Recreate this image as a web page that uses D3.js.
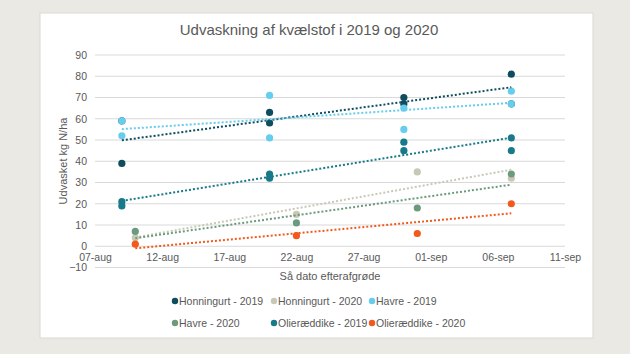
<!DOCTYPE html>
<html>
<head>
<meta charset="utf-8">
<script src="https://cdn.jsdelivr.net/npm/d3@7"></script>
<style>
  body { margin: 0; background: #ebe9e4; }
  text { font-family: "Liberation Sans", Arial, sans-serif; fill: #595959; }
</style>
</head>
<body>
<script>
// data
const dates2019 = ["09-aug", "20-aug", "30-aug", "07-sep"];
const dates2020 = ["10-aug", "22-aug", "31-aug", "07-sep"];

const honningurt2019 = [[39, 59], [63, 58], [70, 67], [81, 67]];
const honningurt2020 = [[4], [15], [35], [32]];
const havre2019 = [[59, 52], [71, 51], [65, 55], [73, 67]];
const havre2020 = [[7], [11], [18], [34]];
const olie2019 = [[21, 19], [34, 32], [49, 45], [51, 45]];
const olie2020 = [[1], [5], [6], [20]];

const seriesNames = ["Honningurt - 2019", "Honningurt - 2020", "Havre - 2019",
                     "Havre - 2020", "Olieræddike - 2019", "Olieræddike - 2020"];
const seriesColors = ["#0f4d5e", "#c8c8b4", "#66cdee", "#6b9a7c", "#17798a", "#f2591c"];

const xTickLabels = ["07-aug", "12-aug", "17-aug", "22-aug", "27-aug", "01-sep", "06-sep", "11-sep"];
const yTicks = [-10, 0, 10, 20, 30, 40, 50, 60, 70, 80, 90];

const parse = d3.timeParse("%d-%b");

const series = [
    { dates: dates2019, vals: honningurt2019 },
    { dates: dates2020, vals: honningurt2020 },
    { dates: dates2019, vals: havre2019 },
    { dates: dates2020, vals: havre2020 },
    { dates: dates2019, vals: olie2019 },
    { dates: dates2020, vals: olie2020 }
].map(function(s, i) {
    var pts = [];
    s.dates.forEach(function(d, j) {
        s.vals[j].forEach(function(v) { pts.push({ x: parse(d), y: v }); });
    });
    return { name: seriesNames[i], color: seriesColors[i], points: pts };
});

var w = 630, h = 354;

var svg = d3.select("body").append("svg")
    .attr("width", w)
    .attr("height", h);

svg.append("rect")
    .attr("x", 40).attr("y", 13)
    .attr("width", 553).attr("height", 325)
    .attr("fill", "#ffffff")
    .attr("stroke", "#dcd9d2");

var x = d3.scaleTime()
    .domain([parse(xTickLabels[0]), parse(xTickLabels[xTickLabels.length - 1])])
    .range([95, 565]);

var y = d3.scaleLinear()
    .domain([-10, 90])
    .range([267.5, 55]);

// gridlines
svg.append("g")
    .selectAll("line")
    .data(yTicks)
    .enter().append("line")
    .attr("x1", 95).attr("x2", 565)
    .attr("y1", function(d) { return y(d); })
    .attr("y2", function(d) { return y(d); })
    .attr("stroke", "#d9d9d9")
    .attr("stroke-width", 1);

// y axis labels
var yAxis = svg.append("g")
    .attr("transform", "translate(87,0)")
    .call(d3.axisLeft(y).tickValues(yTicks).tickSize(0).tickPadding(0));
yAxis.select(".domain").remove();
yAxis.selectAll("text")
    .attr("font-size", 10.5)
    .style("font-family", "Liberation Sans, Arial, sans-serif")
    .attr("fill", "#595959");

// x axis labels (below the 0 line)
var xAxis = svg.append("g")
    .attr("transform", "translate(0," + y(0) + ")")
    .call(d3.axisBottom(x)
        .tickValues(xTickLabels.map(parse))
        .tickFormat(function(d, i) { return xTickLabels[i]; })
        .tickSize(0).tickPadding(7));
xAxis.select(".domain").remove();
xAxis.selectAll("text")
    .attr("font-size", 10.5)
    .style("font-family", "Liberation Sans, Arial, sans-serif")
    .attr("fill", "#595959");

// points
series.forEach(function(s) {
    svg.append("g")
        .selectAll("circle")
        .data(s.points)
        .enter().append("circle")
        .attr("cx", function(d) { return x(d.x); })
        .attr("cy", function(d) { return y(d.y); })
        .attr("r", 3.6)
        .attr("fill", s.color);
});

// linear trendlines
series.forEach(function(s) {
    var xs = s.points.map(function(p) { return +p.x; });
    var ys = s.points.map(function(p) { return p.y; });
    var mx = d3.mean(xs), my = d3.mean(ys);
    var sxy = d3.sum(xs, function(v, i) { return (v - mx) * (ys[i] - my); });
    var sxx = d3.sum(xs, function(v) { return (v - mx) * (v - mx); });
    var b = sxy / sxx, a = my - b * mx;
    var ends = d3.extent(xs);
    svg.append("line")
        .attr("x1", x(new Date(ends[0]))).attr("y1", y(a + b * ends[0]))
        .attr("x2", x(new Date(ends[1]))).attr("y2", y(a + b * ends[1]))
        .attr("stroke", s.color)
        .attr("stroke-width", 2)
        .attr("stroke-dasharray", "2,2");
});

// titles
svg.append("text")
    .attr("x", 309).attr("y", 35)
    .attr("text-anchor", "middle")
    .attr("font-size", 15)
    .text("Udvaskning af kvælstof i 2019 og 2020");

svg.append("text")
    .attr("transform", "translate(67,161) rotate(-90)")
    .attr("text-anchor", "middle")
    .attr("font-size", 11)
    .text("Udvasket kg N/ha");

svg.append("text")
    .attr("x", 330).attr("y", 280)
    .attr("text-anchor", "middle")
    .attr("font-size", 11)
    .text("Så dato efterafgrøde");

// legend
var legendX = [175, 274, 372];
var legendY = [301, 323];
var legend = svg.append("g")
    .selectAll("g")
    .data(series)
    .enter().append("g")
    .attr("transform", function(d, i) {
        return "translate(" + legendX[i % 3] + "," + legendY[Math.floor(i / 3)] + ")";
    });
legend.append("circle")
    .attr("r", 3.2)
    .attr("fill", function(d) { return d.color; });
legend.append("text")
    .attr("x", 4)
    .attr("dy", "0.35em")
    .attr("font-size", 10.5)
    .text(function(d) { return d.name; });
</script>
</body>
</html>
